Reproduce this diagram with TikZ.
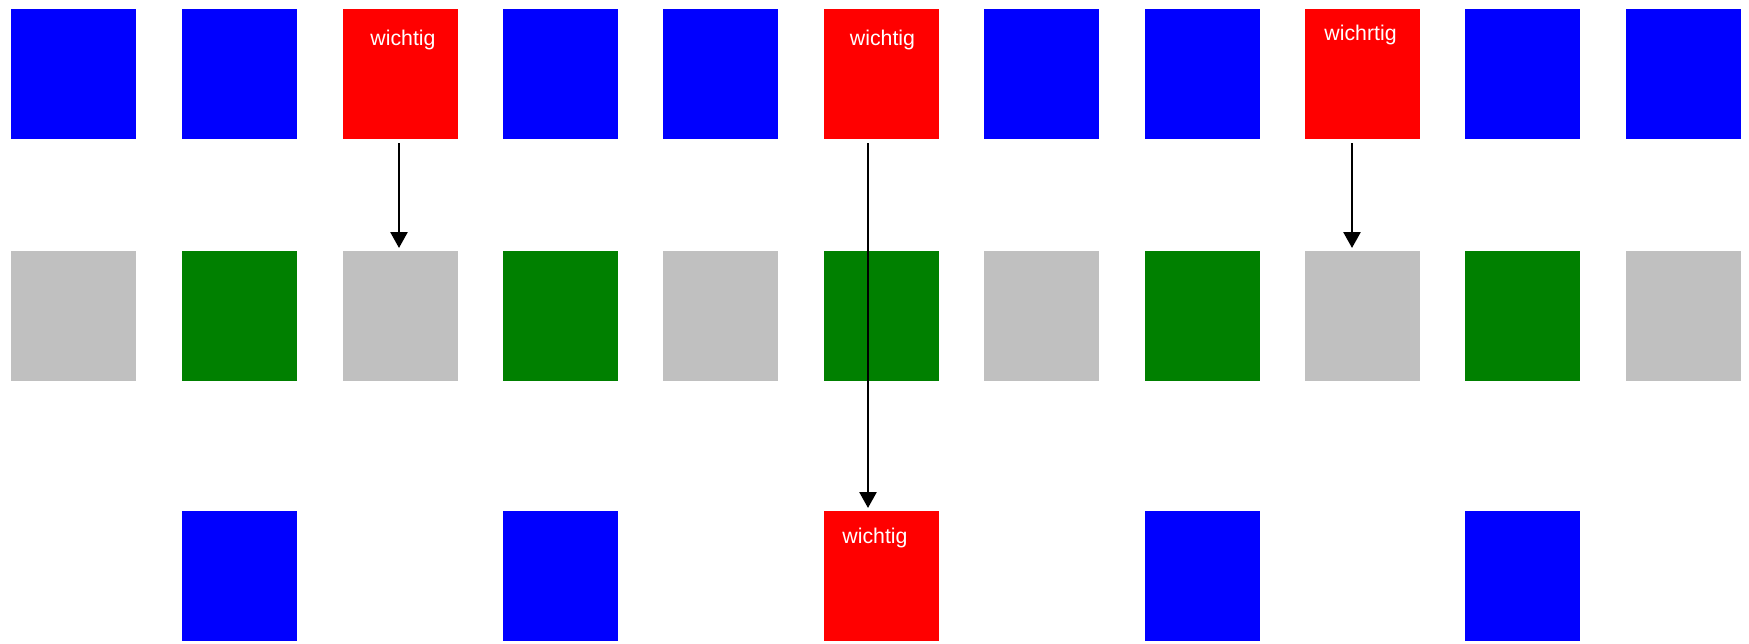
\documentclass[tikz,border=0pt]{standalone}
\usepackage{fontspec}
\setmainfont{Liberation Sans}
\usetikzlibrary{arrows.meta}
\definecolor{bl}{HTML}{0000FF}
\definecolor{rd}{HTML}{FF0000}
\definecolor{gr}{HTML}{008000}
\definecolor{gy}{HTML}{C0C0C0}
\tikzset{
  box/.style={anchor=north west, inner sep=0pt, outer sep=0pt, minimum width=115pt, minimum height=130pt, draw=none},
  wide/.style={minimum width=125pt},
  lbl/.style={anchor=base, text=white, inner sep=0pt, font=\fontsize{21.3}{25}\selectfont},
  arr/.style={line width=2.6pt, -{Triangle[width=17pt,length=16pt]}, shorten <=4pt, shorten >=3pt}
}
\begin{document}
\begin{tikzpicture}[x=1pt,y=-1pt]
\useasboundingbox (0,0) rectangle (1749,643);
% row 1
\node[box,wide,fill=bl] (a1) at (11,9) {};
\node[box,fill=bl] (a2) at (182,9) {};
\node[box,fill=rd] (a3) at (343,9) {};
\node[box,fill=bl] (a4) at (503,9) {};
\node[box,fill=bl] (a5) at (663,9) {};
\node[box,fill=rd] (a6) at (824,9) {};
\node[box,fill=bl] (a7) at (984,9) {};
\node[box,fill=bl] (a8) at (1145,9) {};
\node[box,fill=rd] (a9) at (1305,9) {};
\node[box,fill=bl] (a10) at (1465,9) {};
\node[box,fill=bl] (a11) at (1626,9) {};
% row 2
\node[box,wide,fill=gy] (b1) at (11,251) {};
\node[box,fill=gr] (b2) at (182,251) {};
\node[box,fill=gy] (b3) at (343,251) {};
\node[box,fill=gr] (b4) at (503,251) {};
\node[box,fill=gy] (b5) at (663,251) {};
\node[box,fill=gr] (b6) at (824,251) {};
\node[box,fill=gy] (b7) at (984,251) {};
\node[box,fill=gr] (b8) at (1145,251) {};
\node[box,fill=gy] (b9) at (1305,251) {};
\node[box,fill=gr] (b10) at (1465,251) {};
\node[box,fill=gy] (b11) at (1626,251) {};
% row 3
\node[box,fill=bl] (c2) at (182,511) {};
\node[box,fill=bl] (c4) at (503,511) {};
\node[box,fill=rd] (c6) at (824,511) {};
\node[box,fill=bl] (c8) at (1145,511) {};
\node[box,fill=bl] (c10) at (1465,511) {};
% labels
\node[lbl] (t3) at (403,45) {wichtig};
\node[lbl] (t6) at (882.5,45) {wichtig};
\node[lbl] (t9) at (1360.5,40) {wichrtig};
\node[lbl] (tc6) at (875,543) {wichtig};
% arrows
\draw[arr] ([xshift=-1.5pt]a3.south) -- ([xshift=-1.5pt]b3.north);
\draw[arr] ([xshift=-13.5pt]a6.south) -- ([xshift=-13.5pt]c6.north);
\draw[arr] ([xshift=-10.5pt]a9.south) -- ([xshift=-10.5pt]b9.north);
\end{tikzpicture}
\end{document}
